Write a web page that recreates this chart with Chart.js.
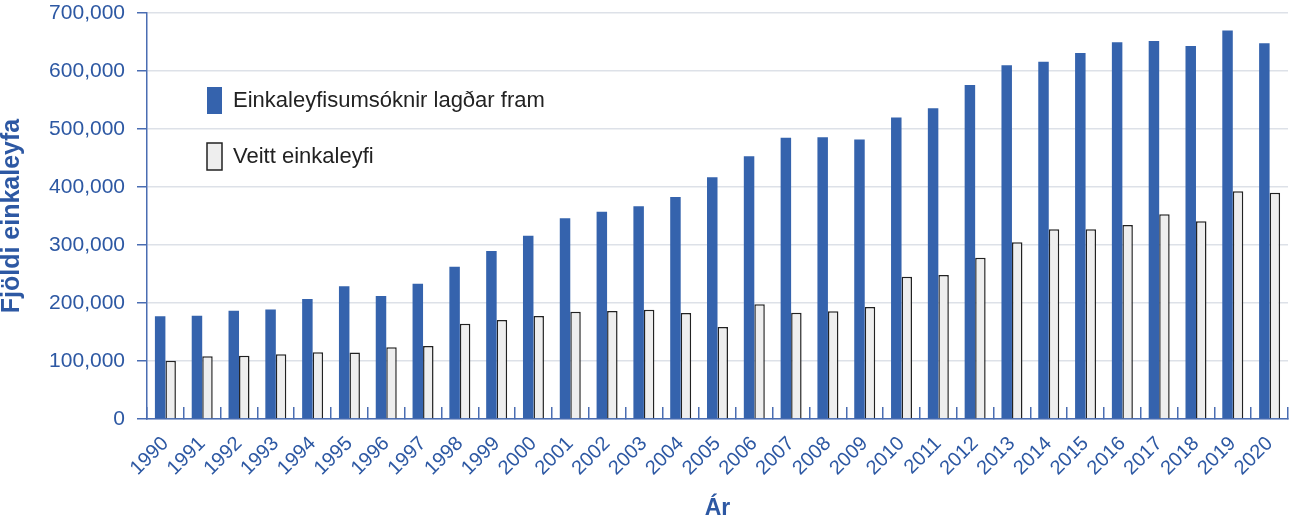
<!DOCTYPE html>
<html>
<head>
<meta charset="utf-8">
<script src="https://cdn.jsdelivr.net/npm/chart.js@4.4.1/dist/chart.umd.min.js"></script>
<style>
  html, body { margin: 0; padding: 0; background: #fff; }
  #wrap { width: 1300px; height: 518px; position: relative; }
</style>
</head>
<body>
<div id="wrap"><canvas id="patentChart"></canvas></div>
<script>
const years = [
  '1990', '1991', '1992', '1993', '1994', '1995', '1996', '1997', '1998', '1999',
  '2000', '2001', '2002', '2003', '2004', '2005', '2006', '2007', '2008', '2009',
  '2010', '2011', '2012', '2013', '2014', '2015', '2016', '2017', '2018', '2019', '2020'
];

const applicationsFiled = [
  177000, 178000, 186500, 189000, 207000, 229000, 212000, 233000, 262500, 289500,
  316000, 346000, 357500, 367000, 382800, 416700, 453000, 485000, 485600, 482000,
  520000, 535600, 576000, 609800, 616000, 631000, 649400, 651700, 643000, 670000, 647700
];

const patentsGranted = [
  100500, 108000, 109000, 111500, 115000, 114700, 123600, 125900, 164400, 170700,
  177600, 185000, 186000, 188500, 182800, 158600, 197700, 183300, 185600, 193000,
  245400, 248300, 278000, 304600, 327000, 327000, 334500, 352900, 340800, 392500, 390000
];

const yTickValues = [0, 100000, 200000, 300000, 400000, 500000, 600000, 700000];

const labelBlue = '#2d58a3';
const axisBlue = '#4a6db2';
const barBlue = '#3563ad';
const gridGray = '#dde1e8';

Chart.defaults.font.family = "'Liberation Sans', Arial, sans-serif";

// legend sits inside the plot, top left
const legendInside = {
  id: 'legendInside',
  afterLayout(chart) {
    const legend = chart.legend;
    if (!legend) return;
    legend.left = 178;
    legend.top = 58;
    legend.width = 500;
    legend.height = 200;
    legend.right = legend.left + legend.width;
    legend.bottom = legend.top + legend.height;
  }
};

const ctx = document.getElementById('patentChart').getContext('2d');

new Chart(ctx, {
  type: 'bar',
  data: {
    labels: years,
    datasets: [{
      label: 'Einkaleyfisumsóknir lagðar fram',
      data: applicationsFiled,
      backgroundColor: barBlue,
      borderColor: barBlue,
      borderWidth: 0,
      categoryPercentage: 0.57,
      barPercentage: 1
    }, {
      label: 'Veitt einkaleyfi',
      data: patentsGranted,
      backgroundColor: '#eeeeee',
      borderColor: '#222222',
      borderWidth: 1.5,
      categoryPercentage: 0.57,
      barPercentage: 1
    }]
  },
  options: {
    responsive: true,
    maintainAspectRatio: false,
    animation: false,
    layout: {
      padding: { left: 0, right: 12, top: 13, bottom: 0 }
    },
    plugins: {
      tooltip: { enabled: false },
      legend: {
        display: true,
        position: 'chartArea',
        align: 'start',
        labels: {
          boxWidth: 15,
          boxHeight: 27,
          padding: 29,
          color: '#222222',
          font: { size: 22 }
        }
      }
    },
    scales: {
      x: {
        afterFit(scale) {
          scale.height = 99;
          scale.paddingLeft = 0;
          scale.paddingRight = 0;
        },
        border: { color: axisBlue, width: 1.5 },
        grid: {
          drawOnChartArea: false,
          offset: true,
          tickColor: axisBlue,
          tickLength: -12,
          lineWidth: 1.5
        },
        ticks: {
          color: labelBlue,
          font: { size: 20 },
          minRotation: 45,
          maxRotation: 45,
          padding: 25,
          autoSkip: false
        },
        title: {
          display: true,
          text: 'Ár',
          color: labelBlue,
          font: { size: 23, weight: 'bold' },
          padding: { top: 0, bottom: -4 }
        }
      },
      y: {
        min: 0,
        max: 700000,
        afterBuildTicks(scale) {
          scale.ticks = yTickValues.map(v => ({ value: v }));
        },
        afterFit(scale) {
          scale.width = 147;
          scale.paddingTop = 0;
          scale.paddingBottom = 0;
        },
        border: { color: axisBlue, width: 1.5 },
        grid: {
          color: gridGray,
          lineWidth: 1.5,
          tickColor: axisBlue,
          tickLength: 10
        },
        ticks: {
          color: labelBlue,
          font: { size: 21 },
          padding: 12,
          callback: value => Number(value).toLocaleString('en-US')
        },
        title: {
          display: true,
          text: 'Fjöldi einkaleyfa',
          color: labelBlue,
          font: { size: 25, weight: 'bold', lineHeight: 1 },
          padding: { top: 0, bottom: 0 }
        }
      }
    }
  },
  plugins: [legendInside]
});
</script>
</body>
</html>
